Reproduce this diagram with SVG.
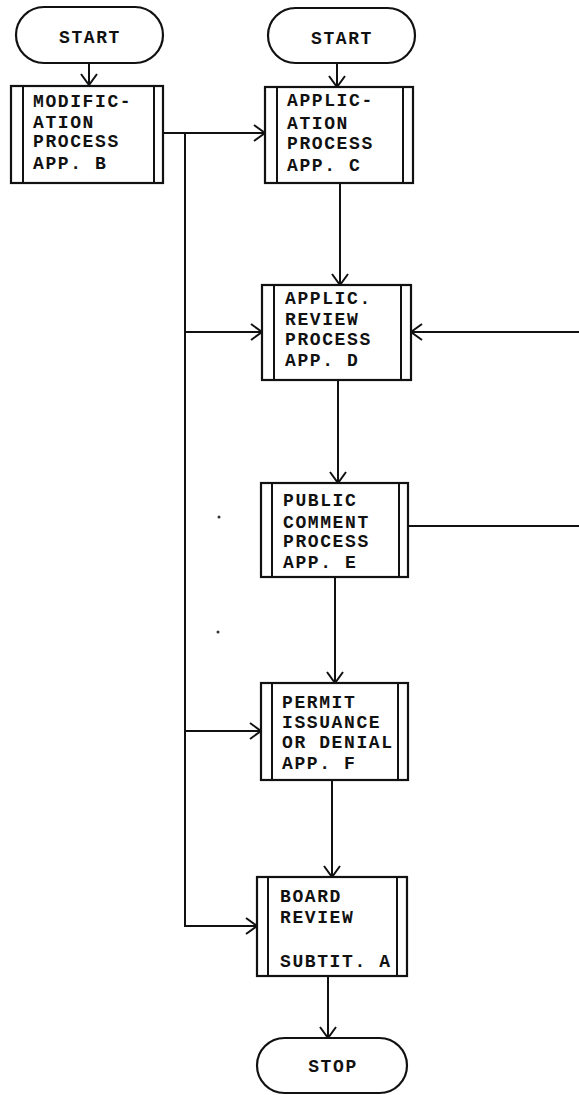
<svg xmlns="http://www.w3.org/2000/svg" width="579" height="1095" viewBox="0 0 579 1095">
<style>
.t{fill:#fff;stroke:#111;stroke-width:2.2}
.b{fill:#fff;stroke:#111;stroke-width:2.2}
.in{stroke:#111;stroke-width:2}
.c{fill:none;stroke:#111;stroke-width:2}
text{font-family:"Liberation Mono","DejaVu Sans Mono",monospace;font-weight:bold;font-size:18px;fill:#111;letter-spacing:1.6px}
.m{text-anchor:middle}
</style>
<defs>
<marker id="ar" markerWidth="16" markerHeight="18" refX="12" refY="9" orient="auto" markerUnits="userSpaceOnUse">
<path d="M1,1 L12,9 L1,17" fill="none" stroke="#111" stroke-width="2"/>
</marker>
</defs>
<rect width="579" height="1095" fill="#fff"/>
<g id="connectors">
<path class="c" d="M89,63 V85" marker-end="url(#ar)"/>
<path class="c" d="M337,63 V87" marker-end="url(#ar)"/>
<path class="c" d="M163,133 H265" marker-end="url(#ar)"/>
<path class="c" d="M185,133 V926 H257" marker-end="url(#ar)"/>
<path class="c" d="M185,332 H262" marker-end="url(#ar)"/>
<path class="c" d="M185,731 H261" marker-end="url(#ar)"/>
<path class="c" d="M579,332 H411" marker-end="url(#ar)"/>
<path class="c" d="M408,526 H579"/>
<path class="c" d="M340,183 V285" marker-end="url(#ar)"/>
<path class="c" d="M338,380 V483" marker-end="url(#ar)"/>
<path class="c" d="M335,577 V683" marker-end="url(#ar)"/>
<path class="c" d="M332,780 V877" marker-end="url(#ar)"/>
<path class="c" d="M328,976 V1038" marker-end="url(#ar)"/>
</g>
<g id="start1">
<rect class="t" x="16" y="7" width="147" height="56" rx="28"/>
<text class="m" x="90" y="43">START</text>
</g>
<g id="start2">
<rect class="t" x="268" y="8" width="147" height="55" rx="27.5"/>
<text class="m" x="342" y="44">START</text>
</g>
<g id="boxB">
<rect class="b" x="11" y="86" width="152" height="97"/>
<line class="in" x1="23" y1="86" x2="23" y2="183"/>
<line class="in" x1="154" y1="86" x2="154" y2="183"/>
<text x="33" y="107">MODIFIC-</text>
<text x="33" y="128">ATION</text>
<text x="33" y="147">PROCESS</text>
<text x="33" y="169">APP. B</text>
</g>
<g id="boxC">
<rect class="b" x="265" y="87" width="148" height="96"/>
<line class="in" x1="277" y1="87" x2="277" y2="183"/>
<line class="in" x1="403" y1="87" x2="403" y2="183"/>
<text x="287" y="106">APPLIC-</text>
<text x="287" y="129">ATION</text>
<text x="287" y="149">PROCESS</text>
<text x="287" y="171">APP. C</text>
</g>
<g id="boxD">
<rect class="b" x="262" y="285" width="149" height="95"/>
<line class="in" x1="274" y1="285" x2="274" y2="380"/>
<line class="in" x1="401" y1="285" x2="401" y2="380"/>
<text x="285" y="304">APPLIC.</text>
<text x="285" y="325">REVIEW</text>
<text x="285" y="345">PROCESS</text>
<text x="285" y="366">APP. D</text>
</g>
<g id="boxE">
<rect class="b" x="261" y="483" width="147" height="94"/>
<line class="in" x1="272" y1="483" x2="272" y2="577"/>
<line class="in" x1="399" y1="483" x2="399" y2="577"/>
<text x="283" y="506">PUBLIC</text>
<text x="283" y="528">COMMENT</text>
<text x="283" y="547">PROCESS</text>
<text x="283" y="568">APP. E</text>
</g>
<g id="boxF">
<rect class="b" x="261" y="683" width="147" height="97"/>
<line class="in" x1="272" y1="683" x2="272" y2="780"/>
<line class="in" x1="398" y1="683" x2="398" y2="780"/>
<text x="282" y="708">PERMIT</text>
<text x="282" y="728">ISSUANCE</text>
<text x="282" y="748">OR DENIAL</text>
<text x="282" y="769">APP. F</text>
</g>
<g id="boxA">
<rect class="b" x="257" y="877" width="150" height="99"/>
<line class="in" x1="268" y1="877" x2="268" y2="976"/>
<line class="in" x1="397" y1="877" x2="397" y2="976"/>
<text x="280" y="902">BOARD</text>
<text x="280" y="923">REVIEW</text>
<text x="280" y="967">SUBTIT. A</text>
</g>
<g id="stop">
<rect class="t" x="257" y="1038" width="150" height="55" rx="27.5"/>
<text class="m" x="333" y="1072">STOP</text>
</g>
<g id="specks" fill="#333">
<circle cx="219" cy="517" r="1.5"/>
<circle cx="218" cy="632" r="1.5"/>
</g>
</svg>
